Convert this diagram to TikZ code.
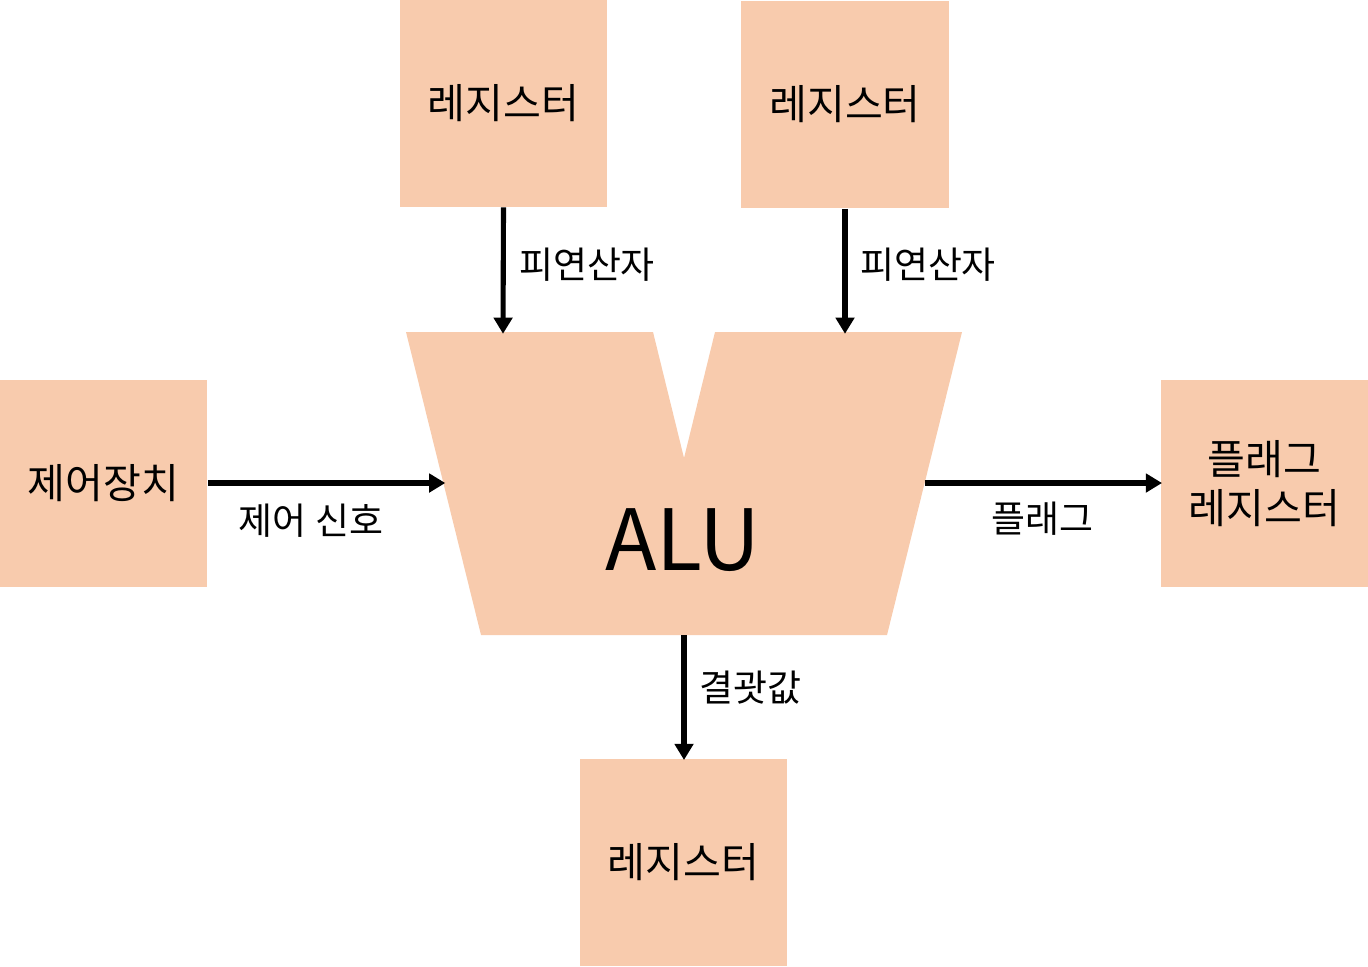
\documentclass[tikz,border=0pt]{standalone}
\usepackage{fontspec}
\setmainfont{Noto Sans CJK KR}
\usetikzlibrary{arrows.meta}
\definecolor{peach}{HTML}{F8CBAD}
\tikzset{
  regbox/.style={fill=peach, draw=none, minimum width=2.07cm, minimum height=2.07cm, inner sep=0pt, align=center, font=\fontsize{11.7pt}{14pt}\selectfont},
  lbl/.style={font=\fontsize{10.5pt}{12pt}\selectfont, inner sep=0pt},
  conn/.style={line width=1.45pt, -{Triangle[length=4.6pt,width=5.2pt]}, shorten >=-0.5pt}
}
\begin{document}
\begin{tikzpicture}[x=0.01cm,y=-0.01cm]
\useasboundingbox (0,0) rectangle (1368,966);
\node[regbox] (r1) at (503.5,103) {레지스터};
\node[regbox] (r2) at (845,104.5) {레지스터};
\node[regbox] (cu) at (103.5,483.5) {제어장치};
\node[regbox] (fr) at (1264.5,483.5) {플래그\\레지스터};
\node[regbox] (r3) at (683.5,862.5) {레지스터};
\fill[peach] (406,332) -- (653,332) -- (684,458) -- (715,332) -- (962,332) -- (887,635) -- (481,635) -- cycle;
\node[font=\fontsize{24pt}{30pt}\selectfont, inner sep=0pt] (alu) at (683,540) {ALU};
\coordinate (inA) at (503,332);
\coordinate (inB) at (845,332);
\coordinate (inC) at (443.5,483);
\coordinate (outF) at (924.5,483);
\coordinate (outR) at (684,635);
\draw[conn] (r1.south) -- (inA);
\draw[conn] (r2.south) -- (inB);
\draw[conn] (cu.east |- inC) -- (inC);
\draw[conn] (outF) -- (fr.west |- outF);
\draw[conn] (outR) -- (outR |- r3.north);
\node[lbl] (l1) at (587,265) {피연산자};
\node[lbl] (l2) at (928,265) {피연산자};
\node[lbl] (l3) at (311,521) {제어 신호};
\node[lbl] (l4) at (1042,519) {플래그};
\node[lbl] (l5) at (750,688) {결괏값};
\end{tikzpicture}
\end{document}
